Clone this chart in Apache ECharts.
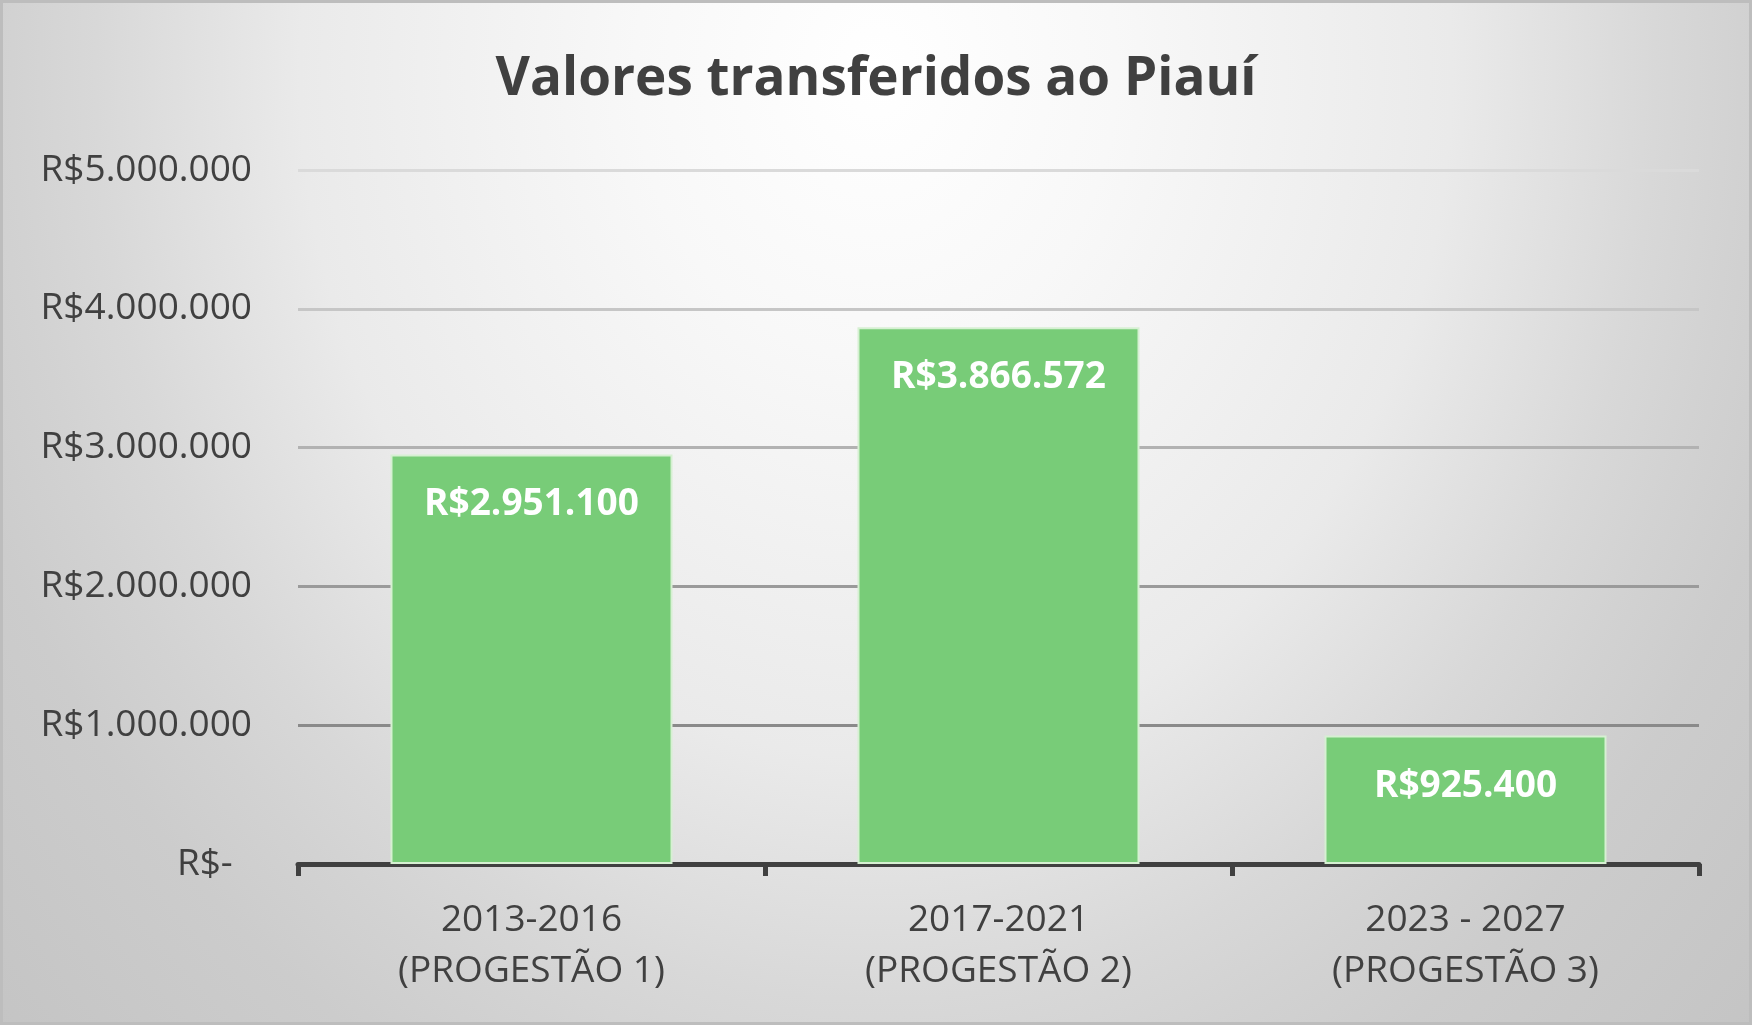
<!DOCTYPE html>
<html>
<head>
<meta charset="utf-8">
<script src="https://cdn.jsdelivr.net/npm/echarts@6/dist/echarts.min.js"></script>
<style>
html,body{margin:0;padding:0;background:#fff;}
#c{width:1752px;height:1025px;}
</style>
</head>
<body>
<div id="c"></div>
<script>
const titleText = 'Valores transferidos ao Piauí';
const categories = ['2013-2016\n(PROGESTÃO 1)', '2017-2021\n(PROGESTÃO 2)', '2023 - 2027\n(PROGESTÃO 3)'];
const values = [2951100, 3866572, 925400];
const yMin = 0;
const yMax = 5000000;
const yInterval = 1000000;
const gridLineColors = ['#7a7a7a', '#8a8a8a', '#9a9a9a', '#b2b2b2', '#c6c6c6', '#dadada'];

function brl(v) {
  if (v === 0) return 'R$-\u00a0\u00a0';
  return 'R$' + String(Math.round(v)).replace(/\B(?=(\d{3})+(?!\d))/g, '.');
}

const W = 1752, H = 1025;
const k = 1.19;
const chart = echarts.init(document.getElementById('c'), null, {renderer: 'canvas'});
const FONT = '"Open Sans", "Noto Sans", sans-serif';

chart.setOption({
  backgroundColor: '#d0d0d0',
  animation: false,
  graphic: [
    {
      type: 'rect', z: -100, silent: true,
      shape: {x: 0, y: 0, width: W, height: H / k},
      scaleY: k,
      style: {
        fill: {
          type: 'radial', x: 0.5, y: 0.07, r: 1200 / (H / k),
          colorStops: [
            {offset: 0, color: '#ffffff'},
            {offset: 0.2, color: '#f8f8f8'},
            {offset: 0.48, color: '#eaeaea'},
            {offset: 0.65, color: '#d8d8d8'},
            {offset: 0.72, color: '#d2d2d2'},
            {offset: 0.8, color: '#cccccc'},
            {offset: 1, color: '#c4c4c4'}
          ]
        }
      }
    },
    {
      type: 'rect', z: 100, silent: true,
      shape: {x: 1.5, y: 1.5, width: W - 3, height: H - 3},
      style: {fill: 'none', stroke: '#bdbdbd', lineWidth: 3}
    }
  ],
  title: {
    text: titleText,
    left: 'center',
    top: 48,
    textStyle: {fontFamily: FONT, fontSize: 53, fontWeight: 'bold', color: '#404040'}
  },
  grid: {left: 298, right: 53, top: 170, bottom: 161, containLabel: false},
  xAxis: {
    type: 'category',
    data: categories,
    axisLine: {show: true, lineStyle: {color: '#404040', width: 5}},
    axisTick: {show: true, length: 12, lineStyle: {color: '#404040', width: 5}},
    axisLabel: {
      fontFamily: FONT, fontSize: 37, color: '#404040', lineHeight: 51, margin: 31, interval: 0
    },
    splitLine: {show: false}
  },
  yAxis: {
    type: 'value',
    min: yMin, max: yMax, interval: yInterval,
    axisLine: {show: false},
    axisTick: {show: false},
    axisLabel: {
      fontFamily: FONT, fontSize: 37, color: '#404040', margin: 46,
      formatter: brl
    },
    splitLine: {show: true, lineStyle: {color: gridLineColors, width: 3}}
  },
  series: [{
    type: 'bar',
    data: values,
    barWidth: 282,
    itemStyle: {color: '#78cc78', borderColor: '#d6f0d2', borderWidth: 2},
    label: {
      show: true,
      position: 'insideTop',
      distance: 32,
      fontFamily: FONT, fontSize: 37, fontWeight: 'bold', color: '#ffffff',
      formatter: p => brl(p.value)
    },
    z: 2
  }]
});
</script>
</body>
</html>
